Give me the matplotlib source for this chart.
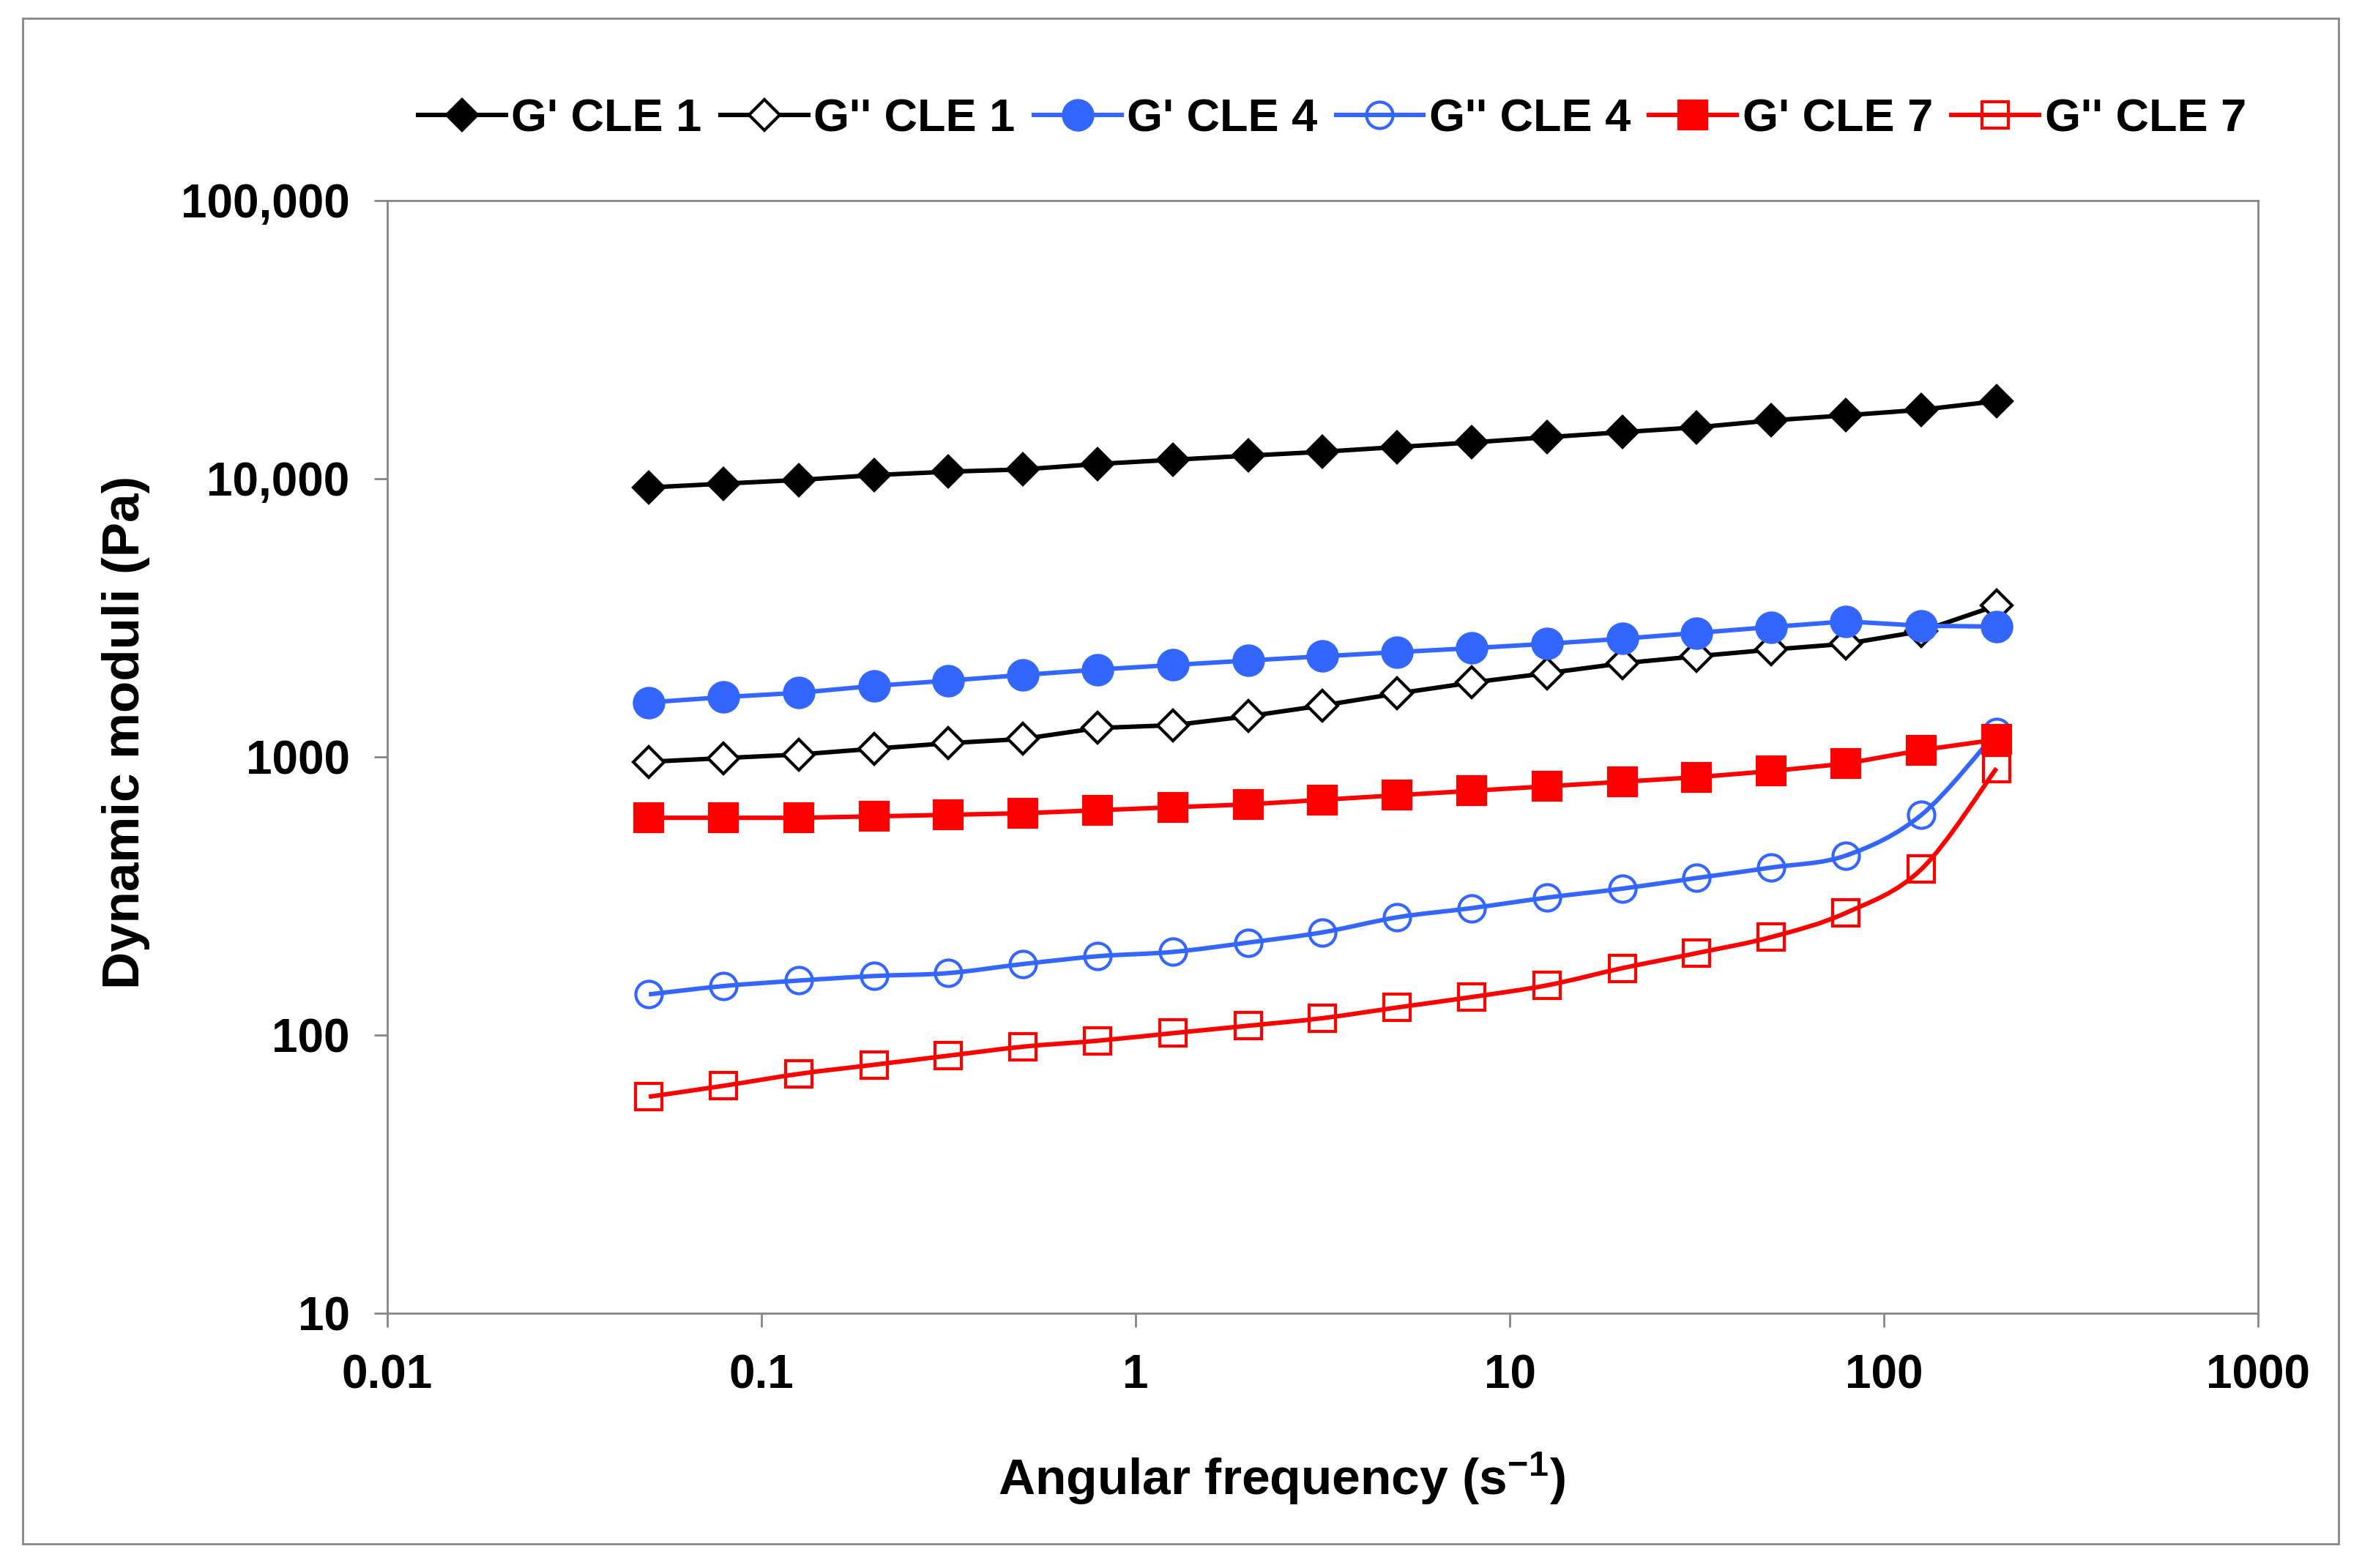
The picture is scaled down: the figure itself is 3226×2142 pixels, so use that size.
import numpy as np
import matplotlib
matplotlib.use("Agg")
import matplotlib.pyplot as plt
from matplotlib.path import Path
from matplotlib.patches import PathPatch, Rectangle
from matplotlib.lines import Line2D
from matplotlib.ticker import FixedLocator, NullLocator

plt.rcParams['font.family'] = ['Liberation Sans', 'DejaVu Sans']
plt.rcParams['font.weight'] = 'bold'
plt.rcParams['mathtext.fontset'] = 'custom'
plt.rcParams['mathtext.bf'] = 'Liberation Sans:bold'
plt.rcParams['mathtext.rm'] = 'Liberation Sans:bold'
plt.rcParams['mathtext.default'] = 'bf'

# angular frequency (s^-1)
freq = [0.05, 0.0792, 0.126, 0.2, 0.316, 0.5, 0.792, 1.26, 2, 3.16, 5,
        7.92, 12.6, 20, 31.6, 50, 79.2, 126, 200]

# dynamic moduli (Pa)
gp_cle1 = [9300, 9600, 9900, 10300, 10600, 10800, 11300, 11700, 12100, 12500,
           13000, 13500, 14100, 14700, 15300, 16200, 16900, 17700, 19000]
gpp_cle1 = [960, 990, 1020, 1070, 1120, 1160, 1270, 1300, 1400, 1530,
            1690, 1850, 2000, 2170, 2300, 2430, 2550, 2830, 3500]
gp_cle4 = [1570, 1640, 1700, 1800, 1880, 1970, 2060, 2140, 2220, 2300,
           2380, 2460, 2550, 2660, 2790, 2930, 3070, 2960, 2940]
gpp_cle4 = [140, 150, 157, 163, 167, 180, 192, 199, 215, 234,
            265, 286, 312, 336, 367, 400, 442, 619, 1228]
gp_cle7 = [604, 604, 604, 611, 619, 627, 643, 659, 675, 701,
           728, 755, 784, 814, 845, 889, 946, 1058, 1154]
gpp_cle7 = [60, 65.7, 72.5, 78.2, 84.3, 90.8, 95.4, 101.6, 108, 115,
            125.6, 137, 151, 174, 197, 225, 275, 395, 910]

labels = ["G' CLE 1", "G'' CLE 1", "G' CLE 4", "G'' CLE 4", "G' CLE 7", "G'' CLE 7"]
series = [gp_cle1, gpp_cle1, gp_cle4, gpp_cle4, gp_cle7, gpp_cle7]

BLUE = '#3366ff'
RED = '#ff0000'
styles = [
    dict(color='black', marker='D', ms=10.5, mfc='black', smooth=False),
    dict(color='black', marker='D', ms=10.5, mfc='white', smooth=False),
    dict(color=BLUE, marker='o', ms=14.5, mfc=BLUE, smooth=False),
    dict(color=BLUE, marker='o', ms=13, mfc='none', smooth=True),
    dict(color=RED, marker='s', ms=13.5, mfc=RED, smooth=False),
    dict(color=RED, marker='s', ms=13, mfc='none', smooth=True),
]


def smooth_path(x, y):
    # Excel-like smoothed line: cubic Bezier with control points from neighbours (log-log space)
    lx, ly = np.log10(x), np.log10(y)
    n = len(lx)
    verts = [(lx[0], ly[0])]
    codes = [Path.MOVETO]
    for i in range(n - 1):
        i0, i3 = max(i - 1, 0), min(i + 2, n - 1)
        c1 = (lx[i] + (lx[i + 1] - lx[i0]) / 6, ly[i] + (ly[i + 1] - ly[i0]) / 6)
        c2 = (lx[i + 1] - (lx[i3] - lx[i]) / 6, ly[i + 1] - (ly[i3] - ly[i]) / 6)
        verts += [c1, c2, (lx[i + 1], ly[i + 1])]
        codes += [Path.CURVE4] * 3
    verts = 10 ** np.array(verts)
    return Path(verts, codes)


fig = plt.figure(figsize=(16.13, 10.71), dpi=200)
ax = fig.add_axes([0.164, 0.1625, 0.792, 0.7096])
ax.set_xscale('log')
ax.set_yscale('log')
ax.set_xlim(0.01, 1000)
ax.set_ylim(10, 100000)

LW = 2.2
MEW = 1.5
handles = []
for vals, lab, st in zip(series, labels, styles):
    if st['smooth']:
        ax.add_patch(PathPatch(smooth_path(freq, vals), fc='none', ec=st['color'], lw=LW))
        ax.plot(freq, vals, ls='none', marker=st['marker'], ms=st['ms'], mfc=st['mfc'],
                mec=st['color'], mew=MEW)
    else:
        ax.plot(freq, vals, ls='-', color=st['color'], lw=LW, marker=st['marker'], ms=st['ms'],
                mfc=st['mfc'], mec=st['color'], mew=MEW)
    handles.append(Line2D([], [], color=st['color'], lw=LW, marker=st['marker'], ms=st['ms'],
                          mfc=st['mfc'], mec=st['color'], mew=MEW))

for s in ax.spines.values():
    s.set_color('#868686')
    s.set_linewidth(1.0)

ax.xaxis.set_major_locator(FixedLocator([0.01, 0.1, 1, 10, 100, 1000]))
ax.xaxis.set_minor_locator(NullLocator())
ax.set_xticklabels(['0.01', '0.1', '1', '10', '100', '1000'])
ax.yaxis.set_major_locator(FixedLocator([10, 100, 1000, 10000, 100000]))
ax.yaxis.set_minor_locator(NullLocator())
ax.set_yticklabels(['10', '100', '1000', '10,000', '100,000'])
ax.tick_params(axis='x', direction='out', length=7, width=1.0, color='#868686', pad=13,
               labelsize=23)
ax.tick_params(axis='y', direction='out', length=6.5, width=1.0, color='#868686', pad=12,
               labelsize=23)
for t in ax.get_xticklabels() + ax.get_yticklabels():
    t.set_fontweight('bold')

ax.set_xlabel('Angular frequency (s$^{-1}$)', fontsize=25, fontweight='bold', labelpad=26)
ax.set_ylabel('Dynamic moduli (Pa)', fontsize=25.5, fontweight='bold', labelpad=15)
ax.xaxis.label.set_x(0.478)
ax.yaxis.label.set_y(0.522)

fig.legend(handles, labels, loc='center', bbox_to_anchor=(0.564, 0.924), ncol=6,
           frameon=False, handlelength=1.9, handletextpad=0.12,
           columnspacing=0.4, prop={'weight': 'bold', 'size': 22.7})

fig.patches.append(Rectangle((0.0096, 0.0154), 0.9804, 0.9731, transform=fig.transFigure,
                             fill=False, ec='#868686', lw=1.0))

fig.savefig('out.png', dpi=200)
